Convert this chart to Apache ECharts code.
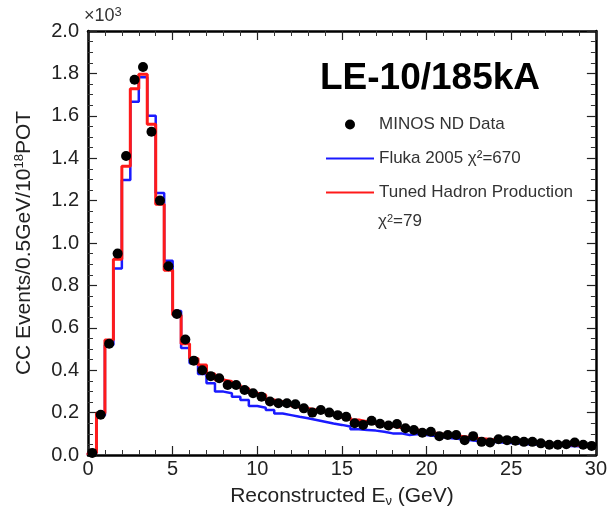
<!DOCTYPE html>
<html><head><meta charset="utf-8">
<script src="https://cdn.jsdelivr.net/npm/echarts@6/dist/echarts.min.js"></script>
<style>html,body{margin:0;padding:0;background:#fff}#c{width:610px;height:518px}</style>
</head><body><div id="c"></div>
<script>
// bin left edges: 0, 0.5, ..., 29.5 (GeV); values in units of 10^3
const binWidth = 0.5;
const dataVals = [0.01,0.19,0.525,0.95,1.41,1.77,1.83,1.525,1.2,0.89,0.665,0.545,0.445,0.40,0.372,0.362,0.33,0.33,0.307,0.291,0.275,0.252,0.244,0.244,0.239,0.22,0.2,0.212,0.2,0.188,0.18,0.15,0.142,0.161,0.147,0.139,0.146,0.126,0.118,0.105,0.11,0.089,0.094,0.094,0.07,0.089,0.062,0.059,0.074,0.07,0.067,0.062,0.062,0.055,0.048,0.048,0.051,0.059,0.048,0.043];
const tunedVals = [0.01,0.197,0.543,0.923,1.362,1.728,1.796,1.56,1.183,0.872,0.66,0.525,0.455,0.425,0.382,0.354,0.347,0.33,0.314,0.291,0.283,0.26,0.251,0.244,0.231,0.22,0.212,0.204,0.196,0.188,0.177,0.165,0.157,0.149,0.146,0.137,0.129,0.123,0.118,0.111,0.104,0.098,0.094,0.089,0.084,0.079,0.076,0.072,0.068,0.066,0.063,0.06,0.057,0.055,0.052,0.05,0.048,0.046,0.044,0.042];
const flukaVals = [0.01,0.188,0.519,0.88,1.297,1.666,1.782,1.6,1.236,0.916,0.679,0.505,0.433,0.382,0.338,0.299,0.291,0.275,0.259,0.231,0.223,0.212,0.196,0.188,0.18,0.173,0.165,0.157,0.149,0.142,0.134,0.121,0.118,0.115,0.11,0.102,0.102,0.094,0.099,0.094,0.089,0.084,0.079,0.075,0.071,0.066,0.062,0.061,0.059,0.057,0.054,0.051,0.049,0.047,0.046,0.044,0.042,0.041,0.04,0.039];
const xTicks = [0,5,10,15,20,25,30];
const yTicks = [0,0.2,0.4,0.6,0.8,1.0,1.2,1.4,1.6,1.8,2.0];

function stepData(vals){
  const out = vals.map((v,i)=>[i*binWidth, v]);
  out.push([vals.length*binWidth, vals[vals.length-1]]);
  return [[0,0]].concat(out);
}
const points = dataVals.map((v,i)=>[i*binWidth + binWidth/2, v]);

const chart = echarts.init(document.getElementById('c'), null, {renderer:'canvas'});
const FONT = 'Liberation Sans, Arial, sans-serif';
const axCommon = {
  axisLine:{show:true, onZero:false, lineStyle:{color:'#000', width:2.5}},
  axisTick:{show:true, inside:true, length:9, lineStyle:{color:'#222', width:1.2}},
  splitLine:{show:false}
};
chart.setOption({
  animation:false,
  backgroundColor:'#fff',
  grid:{left:88, right:12, top:31, bottom:63, containLabel:false},
  xAxis:[
    Object.assign({type:'value', min:0, max:30, interval:5, position:'bottom',
      minorTick:{show:true, splitNumber:5, length:5, lineStyle:{color:'#333', width:1}},
      axisLabel:{color:'#222', fontSize:20, fontFamily:FONT, margin:4, formatter:v=>xTicks.includes(v)?String(v):''},
      name:'Reconstructed E{sub|ν} (GeV)', nameLocation:'middle', nameGap:30,
      nameTextStyle:{color:'#222', fontSize:21, fontFamily:FONT, rich:{sub:{fontSize:13, verticalAlign:'bottom', padding:[10,0,0,0], fontFamily:FONT, color:'#222'}}}
    }, axCommon),
    Object.assign({type:'value', min:0, max:30, interval:5, position:'top', axisLabel:{show:false},
      minorTick:{show:true, splitNumber:5, length:5, lineStyle:{color:'#333', width:1}}}, axCommon)
  ],
  yAxis:[
    Object.assign({type:'value', min:0, max:2.0, interval:0.2, position:'left',
      minorTick:{show:true, splitNumber:4, length:5, lineStyle:{color:'#333', width:1}},
      axisLabel:{color:'#222', fontSize:20, fontFamily:FONT, margin:9, formatter:v=>yTicks.some(t=>Math.abs(t-v)<1e-9)?v.toFixed(1):''},
      name:'CC Events/0.5GeV/10{sup|18}POT', nameLocation:'middle', nameGap:52, nameRotate:90,
      nameTextStyle:{color:'#222', fontSize:21, fontFamily:FONT, rich:{sup:{fontSize:13, verticalAlign:'top', padding:[0,0,10,0], fontFamily:FONT, color:'#222'}}}
    }, axCommon),
    Object.assign({type:'value', min:0, max:2.0, interval:0.2, position:'right', axisLabel:{show:false},
      minorTick:{show:true, splitNumber:4, length:5, lineStyle:{color:'#333', width:1}}}, axCommon)
  ],
  legend:{
    orient:'vertical', left:320, top:111, itemWidth:48, itemHeight:10, itemGap:17,
    data:[
      {name:'MINOS ND Data', icon:'circle'},
      {name:'Fluka 2005 χ²=670', itemStyle:{opacity:0}},
      {name:'Tuned Hadron Production', itemStyle:{opacity:0}}
    ],
    textStyle:{color:'#333', fontSize:17, fontFamily:FONT, lineHeight:17, padding:[0,0,0,0]}
  },
  graphic:[
    {type:'text', left:320, top:60, style:{text:'LE-10/185kA', font:'bold 37px '+FONT, fill:'#000'}},
    {type:'text', left:378, top:213, style:{text:'χ{s|2}=79', rich:{s:{fontSize:11, verticalAlign:'top', padding:[0,0,6,0], fill:'#333', fontFamily:FONT}}, fontSize:17, fontFamily:FONT, fill:'#333'}},
    {type:'text', left:84, top:6, style:{text:'×10{s|3}', rich:{s:{fontSize:13, verticalAlign:'top', padding:[0,0,8,0], fill:'#333', fontFamily:FONT}}, fontSize:18, fontFamily:FONT, fill:'#333'}}
  ],
  series:[
    {name:'Fluka 2005 χ²=670', type:'line', step:'end', data:stepData(flukaVals), symbol:'none',
      lineStyle:{color:'#1a1aff', width:2.5}, itemStyle:{color:'#1a1aff'}, z:2},
    {name:'Tuned Hadron Production', type:'line', step:'end', data:stepData(tunedVals), symbol:'none',
      lineStyle:{color:'#ff1a1a', width:3}, itemStyle:{color:'#ff1a1a'}, z:3},
    {name:'MINOS ND Data', type:'scatter', data:points, symbol:'circle', symbolSize:10,
      itemStyle:{color:'#000', opacity:1}, z:4}
  ]
});
</script></body></html>
